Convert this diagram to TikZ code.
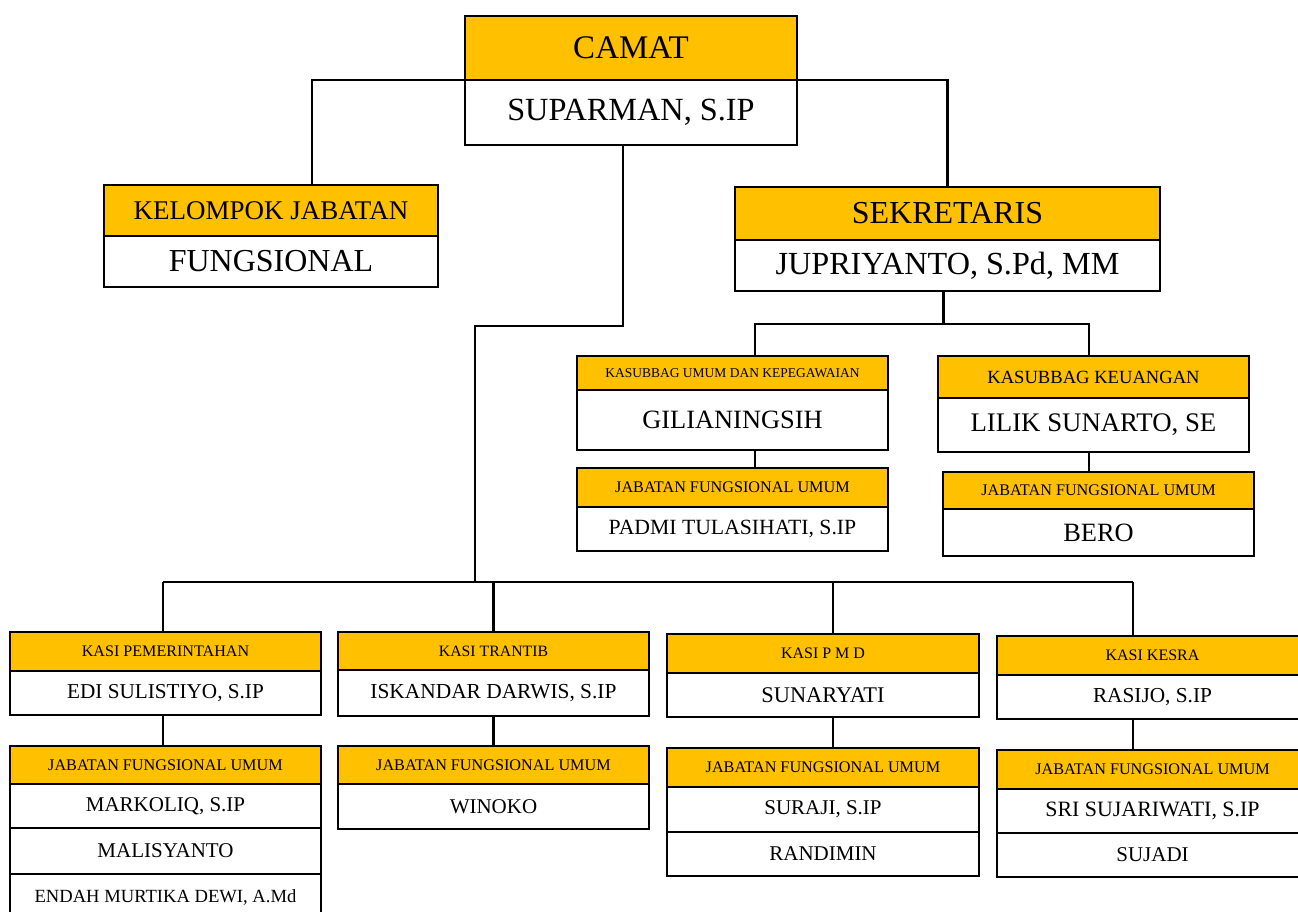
\documentclass[tikz,border=0pt]{standalone}
\usepackage{fontspec}
\setmainfont{Liberation Serif}
\usetikzlibrary{positioning}
\definecolor{kuning}{HTML}{FFC000}

\begin{document}
\begin{tikzpicture}[
        x=1pt, y=-1pt,
        node distance=0pt,
        line width=2.8pt,
        kotak/.style={draw, line width=2.8pt, inner sep=0pt, outer sep=0pt, align=center},
        judul/.style={kotak, fill=kuning, anchor=north west},
        nama/.style={kotak, fill=white},
        fs/.style={font=\fontsize{#1}{#1}\selectfont}
    ]
    \useasboundingbox (0,0) rectangle (1298,911);
    \clip (0,0) rectangle (1298,911);

    % Pimpinan
    \node[judul, minimum width=332, minimum height=64, fs=33] (camat) at (465,16) {CAMAT};
    \node[nama, minimum width=332, minimum height=65, fs=32.3, below=of camat] (suparman) {SUPARMAN, S.IP};

    \node[judul, minimum width=334, minimum height=51, fs=27] (kelompok) at (104,185) {KELOMPOK JABATAN};
    \node[nama, minimum width=334, minimum height=51, fs=32, below=of kelompok] (fungsional) {FUNGSIONAL};

    \node[judul, minimum width=425, minimum height=53, fs=32] (sekretaris) at (735,187) {SEKRETARIS};
    \node[nama, minimum width=425, minimum height=51, fs=32.2, below=of sekretaris] (jupriyanto) {JUPRIYANTO, S.Pd, MM};

    % Sekretariat
    \node[judul, minimum width=311, minimum height=34, fs=13.5] (umum) at (577,356) {KASUBBAG UMUM DAN KEPEGAWAIAN};
    \node[nama, minimum width=311, minimum height=60, fs=26.4, below=of umum] (gilianingsih) {GILIANINGSIH};
    \node[judul, minimum width=311, minimum height=39, fs=16.2] (jfuumum) at (577,468) {JABATAN FUNGSIONAL UMUM};
    \node[nama, minimum width=311, minimum height=44, fs=21.7, below=of jfuumum] (padmi) {PADMI TULASIHATI, S.IP};

    \node[judul, minimum width=311, minimum height=42, fs=18.6] (keuangan) at (938,356) {KASUBBAG KEUANGAN};
    \node[nama, minimum width=311, minimum height=54, fs=26.8, below=of keuangan] (lilik) {LILIK SUNARTO, SE};
    \node[judul, minimum width=311, minimum height=37, fs=16.2] (jfukeu) at (943,472) {JABATAN FUNGSIONAL UMUM};
    \node[nama, minimum width=311, minimum height=47, fs=26.4, below=of jfukeu] (bero) {BERO};

    % Seksi
    \node[judul, minimum width=311, minimum height=39, fs=16.1] (pem) at (10,632) {KASI PEMERINTAHAN};
    \node[nama, minimum width=311, minimum height=44, fs=21.2, below=of pem] (edi) {EDI SULISTIYO, S.IP};
    \node[judul, minimum width=311, minimum height=38, fs=16.2] (jfupem) at (10,746) {JABATAN FUNGSIONAL UMUM};
    \node[nama, minimum width=311, minimum height=44, fs=21, below=of jfupem] (markoliq) {MARKOLIQ, S.IP};
    \node[nama, minimum width=311, minimum height=46, fs=21, below=of markoliq] (malisyanto) {MALISYANTO};
    \node[nama, minimum width=311, minimum height=46, fs=18.6, below=of malisyanto] (endah) {ENDAH MURTIKA DEWI, A.Md};

    \node[judul, minimum width=311, minimum height=38, fs=15.8] (trantib) at (338,632) {KASI TRANTIB};
    \node[nama, minimum width=311, minimum height=46, fs=21.4, below=of trantib] (iskandar) {ISKANDAR DARWIS, S.IP};
    \node[judul, minimum width=311, minimum height=38, fs=16.2] (jfutrantib) at (338,746) {JABATAN FUNGSIONAL UMUM};
    \node[nama, minimum width=311, minimum height=45, fs=21, below=of jfutrantib] (winoko) {WINOKO};

    \node[judul, minimum width=312, minimum height=39, fs=16] (pmd) at (667,634) {KASI P M D};
    \node[nama, minimum width=312, minimum height=44, fs=22.4, below=of pmd] (sunaryati) {SUNARYATI};
    \node[judul, minimum width=312, minimum height=39, fs=16.2] (jfupmd) at (667,748) {JABATAN FUNGSIONAL UMUM};
    \node[nama, minimum width=312, minimum height=45, fs=21, below=of jfupmd] (suraji) {SURAJI, S.IP};
    \node[nama, minimum width=312, minimum height=44, fs=21, below=of suraji] (randimin) {RANDIMIN};

    \node[judul, minimum width=311, minimum height=39, fs=16] (kesra) at (997,636) {KASI KESRA};
    \node[nama, minimum width=311, minimum height=44, fs=21.3, below=of kesra] (rasijo) {RASIJO, S.IP};
    \node[judul, minimum width=311, minimum height=39, fs=16.2] (jfukesra) at (997,750) {JABATAN FUNGSIONAL UMUM};
    \node[nama, minimum width=311, minimum height=44, fs=21.9, below=of jfukesra] (sri) {SRI SUJARIWATI, S.IP};
    \node[nama, minimum width=311, minimum height=44, fs=21, below=of sri] (sujadi) {SUJADI};

    % Garis
    \coordinate (bus) at (475,582);
    \coordinate (busL) at (163,582);
    \coordinate (busR) at (1133,582);

    \draw (camat.south west) -| ([xshift=41pt]kelompok.north);
    \draw (camat.south east) -| (sekretaris.north);
    \draw ([xshift=-8pt]suparman.south) -- ++(0,181) -| (bus);
    \draw (busL) -- (busR);

    \draw ([xshift=-4pt]jupriyanto.south) -- ++(0,33) coordinate (cabang);
    \draw ([xshift=22.5pt]umum.north) |- (cabang) -| ([xshift=-4.5pt]keuangan.north);
    \draw ([xshift=22.5pt]gilianingsih.south) -- ([xshift=22.5pt]jfuumum.north);
    \draw ([xshift=-4.5pt]lilik.south) -- ([xshift=-4.5pt]lilik.south |- jfukeu.north);

    \foreach \a/\b/\c/\dx in {pem/edi/jfupem/-2.5, trantib/iskandar/jfutrantib/0,
                              pmd/sunaryati/jfupmd/10, kesra/rasijo/jfukesra/-19.5}{
        \draw ([xshift=\dx pt]\a.north) -- ([xshift=\dx pt]\a.north |- bus);
        \draw ([xshift=\dx pt]\b.south) -- ([xshift=\dx pt]\c.north);
    }

\end{tikzpicture}
\end{document}
